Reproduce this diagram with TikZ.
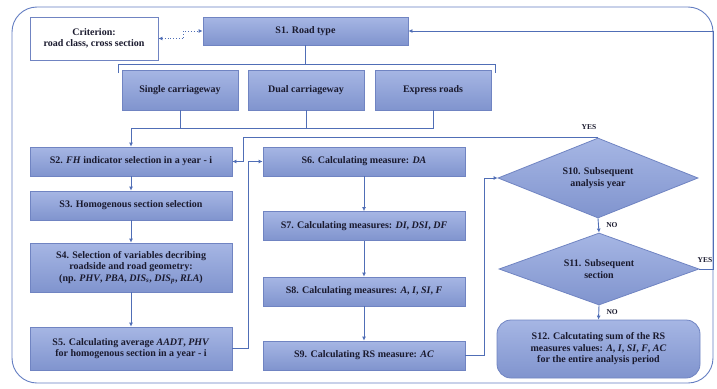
\documentclass[tikz,border=0pt]{standalone}
\usepackage{fontspec}
\setmainfont{Liberation Serif}
\usepackage{tikz}
\usetikzlibrary{calc, shapes.geometric, positioning, arrows.meta}
\definecolor{boxtop}{RGB}{166,182,228}
\definecolor{boxbot}{RGB}{128,148,206}
\definecolor{boxline}{RGB}{112,132,194}
\definecolor{lline}{RGB}{80,110,182}
\definecolor{frameline}{RGB}{100,126,194}
\definecolor{txt}{RGB}{26,26,46}
\tikzset{
	flowbox/.style={draw=boxline, line width=0.8pt, top color=boxtop, bottom color=boxbot, inner sep=1pt, align=center, text=txt, font=\bfseries\fontsize{10}{11.5}\selectfont},
	critbox/.style={flowbox, fill=white, top color=white, bottom color=white},
	decide/.style={flowbox, diamond, aspect=2.5, inner sep=0pt},
	flow/.style={draw=lline, line width=0.9pt, -{Latex[length=4pt,width=4pt]}},
	link/.style={draw=lline, line width=0.9pt},
	tag/.style={text=txt, font=\bfseries\fontsize{7.5}{9}\selectfont}
}
\newcommand\flowbox[6]{\node[flowbox, minimum width=#4pt, minimum height=#5pt] (#1) at (#2,#3) {#6};}

\begin{document}
\begin{tikzpicture}[x=1pt, y=-1pt]
	\useasboundingbox (0,0) rectangle (717,388);
	\draw[draw=frameline, line width=0.9pt, rounded corners=25pt] (12,7) rectangle (713,383);

	\node[critbox, minimum width=128pt, minimum height=43pt] (crit) at (94,38.5) {Criterion:\\road class, cross section};
	\flowbox{s1}{305.5}{31}{205}{28}{S1. Road type}
	\flowbox{single}{180}{90}{116}{40}{Single carriageway}
	\flowbox{dual}{306}{90}{116}{40}{Dual carriageway}
	\flowbox{express}{433}{90}{116}{40}{Express roads}
	\flowbox{s2}{131}{161.5}{202}{29}{S2. \textit{FH} indicator selection in a year - i}
	\flowbox{s3}{131}{205.5}{202}{29}{S3. Homogenous section selection}
	\flowbox{s4}{131}{267.5}{202}{49}{S4. Selection of variables decribing\\roadside and road geometry:\\(np. \textit{PHV}, \textit{PBA}, \textit{DIS}\textsubscript{\textit{s}}, \textit{DIS}\textsubscript{\textit{p}}, \textit{RLA})}
	\flowbox{s5}{131}{348.5}{202}{43}{S5. Calculating average \textit{AADT}, \textit{PHV}\\for homogenous section in a year - i}
	\flowbox{s6}{364}{161.5}{202}{29}{S6. Calculating measure: \textit{DA}}
	\flowbox{s7}{364}{226}{202}{29}{S7. Calculating measures: \textit{DI}, \textit{DSI}, \textit{DF}}
	\flowbox{s8}{364}{291.5}{202}{29}{S8. Calculating measures: \textit{A}, \textit{I}, \textit{SI}, \textit{F}}
	\flowbox{s9}{364}{355.5}{202}{29}{S9. Calculating RS measure: \textit{AC}}
	\node[decide, minimum width=200pt, minimum height=80pt] (s10) at (598,178) {S10. Subsequent\\analysis year};
	\node[decide, minimum width=200pt, minimum height=72pt] (s11) at (599,269) {S11. Subsequent\\section};
	\node[flowbox, rounded corners=14pt, minimum width=203pt, minimum height=58pt] (s12) at (598.5,349) {S12. Calcutating sum of the RS\\measures values: \textit{A}, \textit{I}, \textit{SI}, \textit{F}, \textit{AC}\\for the entire analysis period};

	\draw[link, line width=0.8pt, dotted, {Latex[length=4pt,width=4pt]}-{Latex[length=4pt,width=4pt]}] (crit.east) -- ++(25,0) |- (s1.west);

	\coordinate (brkL) at (118,73);
	\coordinate (brkR) at (495,73);
	\coordinate (brkT) at (0,64);
	\draw[link] (brkL) -- (brkL |- brkT) -- (brkR |- brkT) -- (brkR);
	\draw[link] (s1.south) -- (s1.south |- brkT);

	\coordinate (jn) at (0,128);
	\draw[link] (single.south) -- (single.south |- jn);
	\draw[link] (dual.south) -- (dual.south |- jn);
	\draw[flow] (express.south) |- (s2.north |- jn) -- (s2.north);

	\draw[flow] (s2) -- (s3);
	\draw[flow] (s3) -- (s4);
	\draw[flow] (s4) -- (s5);
	\draw[flow] (s5.east) -- ++(16,0) |- (s6.west);
	\draw[flow] (s6) -- (s7);
	\draw[flow] (s7) -- (s8);
	\draw[flow] (s8) -- (s9);
	\draw[flow] (s9.east) -- ++(19,0) |- (s10.west);

	\coordinate (yesL) at (243,0);
	\draw[flow] (s10.north) -- (yesL |- s10.north) |- (s2.east);
	\node[tag] (yes1) at (589,127) {YES};
	\draw[flow] (s10.south) -- node[tag, right=4pt] (no1) {NO} (s11.north);
	\draw[flow] (s11.south) -- node[tag, right=4pt] (no2) {NO} (s12.north);
	\coordinate (yesR) at (713,0);
	\draw[flow] (s11.east) -- (yesR |- s11.east) |- (s1.east);
	\node[tag] (yes2) at (705,260) {YES};
\end{tikzpicture}
\end{document}
